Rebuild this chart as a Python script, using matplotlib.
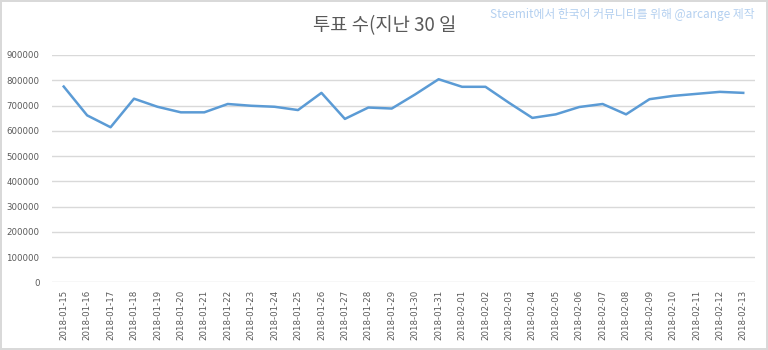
import matplotlib
matplotlib.use('Agg')
import matplotlib.pyplot as plt

plt.rcParams['font.family'] = ['DejaVu Sans', 'Noto Sans CJK KR']

# 날짜별 투표 수
dates = ['2018-01-15', '2018-01-16', '2018-01-17', '2018-01-18', '2018-01-19',
         '2018-01-20', '2018-01-21', '2018-01-22', '2018-01-23', '2018-01-24',
         '2018-01-25', '2018-01-26', '2018-01-27', '2018-01-28', '2018-01-29',
         '2018-01-30', '2018-01-31', '2018-02-01', '2018-02-02', '2018-02-03',
         '2018-02-04', '2018-02-05', '2018-02-06', '2018-02-07', '2018-02-08',
         '2018-02-09', '2018-02-10', '2018-02-11', '2018-02-12', '2018-02-13']
votes = [775000, 661000, 614000, 727000, 695000, 673000, 673000, 706000, 699000, 695000,
         682000, 750000, 647000, 692000, 688000, 744000, 804000, 774000, 774000, 711000,
         651000, 665000, 694000, 706000, 665000, 725000, 738000, 746000, 754000, 750000]
yticks = list(range(0, 900001, 100000))

fig = plt.figure(figsize=(7.68, 3.5), dpi=100)
fig.patch.set_edgecolor('#d9d9d9')
fig.patch.set_linewidth(1.5)
ax = fig.add_axes([0.0677, 0.193, 0.9153, 0.650])

x = list(range(len(dates)))
ax.plot(x, votes, color='#5b9bd5', linewidth=1.8)

ax.set_xlim(-0.5, len(dates) - 0.5)
ax.set_ylim(0, 900000)
ax.set_yticks(yticks)
ax.set_yticklabels([str(v) for v in yticks])
ax.set_xticks(x)
ax.set_xticklabels(dates, rotation=90)
ax.tick_params(axis='both', length=0, labelsize=6.2, labelcolor='#595959')
ax.tick_params(axis='y', pad=9)
ax.tick_params(axis='x', pad=5)
ax.grid(axis='y', color='#d9d9d9', linewidth=1)
ax.set_axisbelow(True)
for s in ax.spines.values():
    s.set_visible(False)

fig.text(0.501, 0.928, '투표 수(지난 30 일', ha='center', va='center', fontsize=13.5,
         color='#595959', family=['Noto Sans CJK KR', 'DejaVu Sans'])
fig.text(0.983, 0.958, 'Steemit에서 한국어 커뮤니티를 위해 @arcange 제작', ha='right', va='center',
         fontsize=8.5, color='#b4d0f0', fontweight='medium', family=['Noto Sans CJK KR', 'DejaVu Sans'])

fig.savefig('out.png', dpi=100, edgecolor=fig.get_edgecolor())
